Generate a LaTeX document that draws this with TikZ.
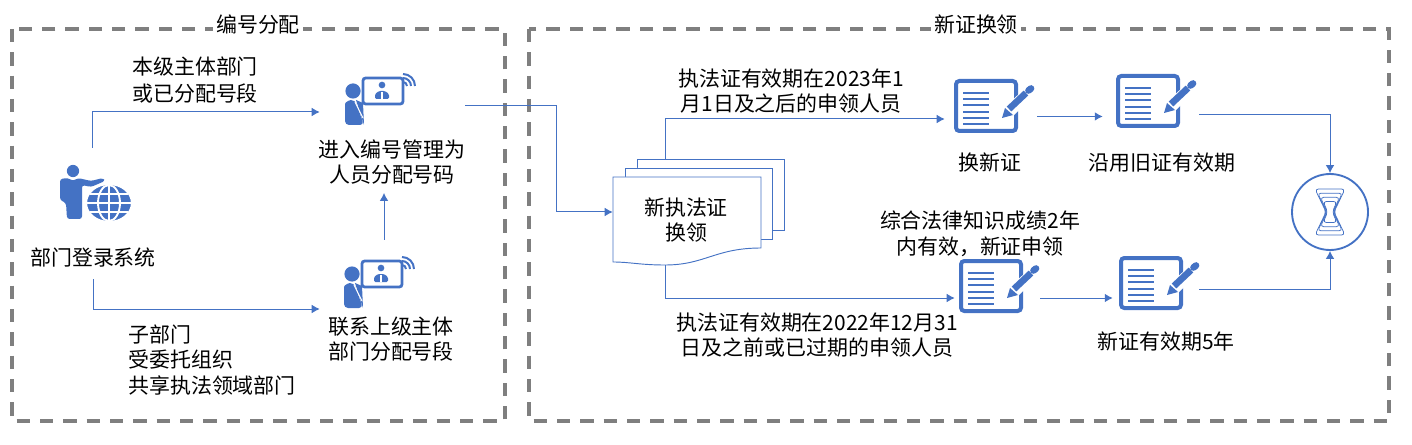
\documentclass[tikz,border=0pt]{standalone}
\usepackage{fontspec}
\setmainfont{Noto Sans CJK SC}
\usetikzlibrary{arrows.meta,calc}
\definecolor{iconblue}{HTML}{4472C4}
\definecolor{framegray}{HTML}{7F7F7F}
\tikzset{
	frame/.style={draw=framegray,line width=2.4pt,dash pattern=on 10pt off 7.5pt},
	frametitle/.style={fill=white,inner sep=2pt},
	label/.style={align=center,inner sep=0pt},
	leftlabel/.style={align=left,anchor=west,inner sep=0pt},
	slot/.style={inner sep=0pt,minimum height=#1*0.75pt},
	flow/.style={draw=iconblue,line width=.75pt,-{Latex[length=6pt,width=6.5pt]}},
	sheet/.style={draw=iconblue,line width=.7pt,fill=white},
	noteicon/.pic={
		\draw[iconblue,line width=3pt,rounded corners=2.5pt,fill=white] (2,2) rectangle (62,52);
		\foreach \liney in {14,20,26,33,39,45}
			\draw[iconblue,line width=2pt] (9,\liney) -- (35,\liney);
		\draw[white,line width=9pt] (48,39) -- (79,10);
		\fill[iconblue] (48,39) -- (51,29) -- (59,36) -- cycle;
		\draw[iconblue,line width=5pt] (55,30) -- (72,14);
		\draw[iconblue,line width=5pt,line cap=round] (74.5,11.5) -- (77,9.5);
	},
	talkicon/.pic={
		\fill[iconblue] (8,13) circle[radius=5.7pt];
		\fill[iconblue,rounded corners=3pt] (0,47) -- (0,30) .. controls (0,24) and (5,22) .. (10,22) -- (19,47) -- cycle;
		\fill[iconblue] (11,22) -- (18,25) -- (19,47) -- cycle;
		\draw[white,line width=.8pt] (10,24) -- (18,40);
		\draw[iconblue,line width=2.1pt,rounded corners=2pt,fill=white] (18,0) rectangle (58,26);
		\fill[iconblue] (37,7) circle[radius=2.5pt];
		\fill[iconblue,rounded corners=1pt] (30,21) -- (30,16) -- (34,13) -- (40,13) -- (44,16) -- (44,21) -- cycle;
		\draw[white,line width=.8pt] (37,14) -- (37,21);
		\draw[iconblue,line width=1.5pt] (58,-4) arc[start angle=90,end angle=0,x radius=12,y radius=-12];
		\draw[iconblue,line width=1.5pt] (58,0) arc[start angle=90,end angle=0,x radius=8,y radius=-8];
		\draw[iconblue,line width=1.5pt] (58,4) arc[start angle=90,end angle=0,x radius=4,y radius=-4];
	},
	globeicon/.pic={
		\fill[iconblue] (14,0) circle[radius=4.6pt];
		\fill[iconblue,rounded corners=2pt] (1,8) -- (9,7) -- (14,10) -- (19,7) -- (32,10) -- (44,7) -- (46,10) -- (32,16) -- (23,14) -- (23,48) -- (8,48) -- (7,32) -- (1,29) -- cycle;
		\draw[white,line width=1.6pt,fill=iconblue] (50,32) ellipse[x radius=23,y radius=19];
		\draw[white,line width=1.4pt] (50,32) ellipse[x radius=11,y radius=18];
		\draw[white,line width=1.4pt] (50,14) -- (50,50) (28,32) -- (72,32) (31,23) -- (69,23) (31,41) -- (69,41);
	}
}

\begin{document}
\begin{tikzpicture}[x=.75pt,y=-.75pt]
	\useasboundingbox (0,0) rectangle (1412,445);
	\fontsize{15.7pt}{19.2pt}\selectfont

	\draw[frame] (12,29) rectangle (505,421);
	\draw[frame] (529,29) rectangle (1389,421);
	\node[frametitle] (numbertitle) at (258,25) {编号分配};
	\node[frametitle] (renewtitle) at (976,25) {新证换领};

	\pic at (59,171) {globeicon};
	\pic at (345,78) {talkicon};
	\pic at (344,261) {talkicon};
	\pic at (954,79) {noteicon};
	\pic at (1116,74) {noteicon};
	\pic at (959,259) {noteicon};
	\pic at (1119,256) {noteicon};

	\node[slot=96,minimum width=75pt] (loginicon) at (92,196) {};
	\node[slot=40,minimum width=96pt] (assignicon) at (384,112) {};
	\node[slot=138,minimum width=96pt] (contacticon) at (384,309) {};
	\node[slot=30,minimum width=69pt] (renewicon) at (991,119) {};
	\node[slot=30,minimum width=72pt] (oldicon) at (1151,115) {};
	\node[slot=30,minimum width=63.75pt] (newicon) at (997.5,298) {};
	\node[slot=30,minimum width=64.5pt] (validicon) at (1156,296) {};

	\node[label,minimum height=31.5pt] (loginlabel) at (93,258) {部门登录系统};
	\node[leftlabel] (ownlabel) at (132,80) {本级主体部门\\[1.2pt]或已分配号段};
	\node[leftlabel] (sublabel) at (128,360) {子部门\\受委托组织\\共享执法领域部门};
	\node[label,minimum height=46pt] (assignlabel) at (392,162) {进入编号管理为\\人员分配号码};
	\node[label] (contactlabel) at (391,339) {联系上级主体\\部门分配号段};
	\node[label] (latelabel) at (791,91) {执法证有效期在2023年1\\月1日及之后的申领人员};
	\node[label] (earlylabel) at (817,335) {执法证有效期在2022年12月31\\日及之前或已过期的申领人员};
	\node[label] (lawlabel) at (980,234) {综合法律知识成绩2年\\内有效，新证申领};
	\node[label] (renewlabel) at (990,163) {换新证};
	\node[label] (oldlabel) at (1162,163) {沿用旧证有效期};
	\node[label] (validlabel) at (1166,342) {新证有效期5年};

	\draw[sheet] (637,159) -- (784,159) -- (784,230) -- (700,230) -- (637,230) -- cycle;
	\draw[sheet] (625,168) -- (772,168) -- (772,239) -- (700,239) -- (625,239) -- cycle;
	\draw[sheet] (613,177) -- (761,177) -- (761,248) .. controls (715,248) and (705,265) .. (665,265) .. controls (640,265) and (630,262) .. (613,262) -- cycle;
	\node[label,minimum width=111pt,minimum height=52.5pt] (sheetlabel) at (687,212) {};
	\node[label] (sheettext) at (686,220) {新执法证\\换领};
	\coordinate (sheettop) at (665,159);
	\coordinate (sheetbottom) at (665,265);
	\coordinate (handoff) at (465,106);
	\coordinate (handturn) at (556,106);
	\coordinate (renewout) at ([yshift=1.9pt]renewicon.east);
	\coordinate (validout) at ([yshift=5.25pt]validicon.east);

	\node[draw=iconblue,line width=1.4pt,circle,minimum size=57pt,inner sep=0pt] (clock) at (1330,212) {};
	\foreach \glass in {1,.82,.64,.46}
		\draw[iconblue,line width=.55pt,rounded corners=2.5pt] ($(clock)+(-15*\glass,-23*\glass)$) -- ($(clock)+(15*\glass,-23*\glass)$) -- ($(clock)+(1+3*\glass,0)$) -- ($(clock)+(15*\glass,23*\glass)$) -- ($(clock)+(-15*\glass,23*\glass)$) -- ($(clock)+(-1-3*\glass,0)$) -- cycle;

	\draw[flow] (loginicon.north) |- (assignicon.west);
	\draw[flow] (loginlabel.south) |- (contacticon.west);
	\draw[flow] (contacticon.north) -- (contacticon.north |- assignlabel.south);
	\draw[flow] (handoff) -- (handturn) |- (sheetlabel.west);
	\draw[flow] (sheettop) |- (renewicon.west);
	\draw[flow] (sheetbottom) |- (newicon.west);
	\draw[flow] (renewout) -- (oldicon.west |- renewout);
	\draw[flow] (newicon.east) -- (validicon.west |- newicon.east);
	\draw[flow] (oldicon.east) -| (clock.north);
	\draw[flow] (validout) -| (clock.south);
\end{tikzpicture}
\end{document}
